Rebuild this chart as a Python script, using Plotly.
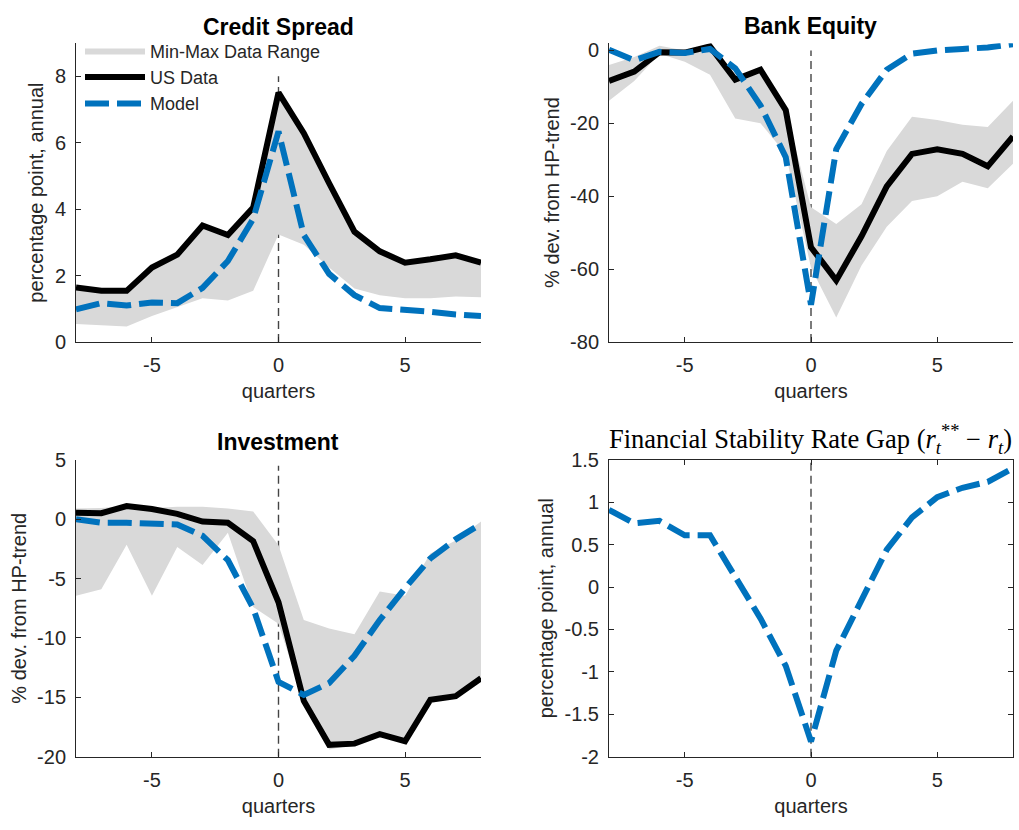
import plotly.graph_objects as go

# ---------------- data ----------------
quarters = list(range(-8, 9))

# Credit Spread (percentage point, annual)
cs_us = [1.64, 1.54, 1.54, 2.24, 2.63, 3.51, 3.22, 4.05, 7.51, 6.29, 4.78, 3.32, 2.73, 2.39, 2.49, 2.61, 2.39]
cs_model = [0.98, 1.17, 1.10, 1.19, 1.17, 1.63, 2.44, 3.71, 6.34, 3.22, 2.05, 1.41, 1.02, 0.98, 0.91, 0.83, 0.78]
cs_upper = [1.64, 1.54, 1.54, 2.24, 2.63, 3.51, 3.22, 4.05, 7.40, 6.29, 4.78, 3.32, 2.73, 2.39, 2.49, 2.61, 2.39]
cs_lower = [0.54, 0.51, 0.47, 0.78, 1.05, 1.32, 1.25, 1.54, 3.24, 2.93, 2.24, 1.61, 1.41, 1.32, 1.32, 1.37, 1.35]

# Bank Equity (% dev. from HP-trend)
be_us = [-8.4, -5.8, -0.5, -0.6, 1.1, -8.0, -5.3, -16.4, -54.0, -63.1, -51.0, -37.3, -28.4, -27.1, -28.4, -31.8, -23.6]
be_model = [0.2, -2.7, -0.4, -0.7, 0.4, -4.9, -15.1, -29.3, -69.8, -27.1, -14.7, -5.3, -0.9, 0.0, 0.4, 0.8, 1.7]
be_upper = [-4.0, -1.8, 1.3, 0.0, 1.1, -8.0, -5.3, -16.4, -43.0, -47.6, -42.2, -27.6, -18.2, -19.1, -20.4, -21.0, -13.8]
be_lower = [-13.8, -8.4, -0.9, -3.1, -6.7, -18.7, -20.0, -28.4, -59.6, -73.3, -59.0, -48.4, -41.3, -40.0, -36.0, -37.8, -31.1]

# Investment (% dev. from HP-trend)
inv_us = [0.55, 0.50, 1.10, 0.85, 0.45, -0.20, -0.30, -1.85, -7.0, -15.3, -19.0, -18.9, -18.1, -18.7, -15.2, -14.9, -13.4]
inv_model = [0.0, -0.3, -0.3, -0.4, -0.45, -1.4, -3.45, -7.5, -13.7, -14.8, -13.8, -11.5, -8.5, -5.8, -3.3, -1.7, -0.4]
inv_upper = [0.9, 0.95, 1.1, 0.95, 1.05, 1.05, 0.9, 0.65, -2.2, -8.5, -9.2, -9.7, -6.1, -6.45, -2.9, -1.8, -0.2]
inv_lower = [-6.45, -5.9, -2.15, -6.45, -2.35, -3.85, -1.15, -7.4, -8.8, -15.4, -19.4, -19.0, -18.1, -18.7, -15.2, -14.9, -13.3]

# Financial Stability Rate Gap (percentage point, annual)
gap_model = [0.91, 0.75, 0.78, 0.61, 0.61, 0.13, -0.37, -0.93, -1.82, -0.75, -0.17, 0.44, 0.82, 1.06, 1.17, 1.24, 1.40]

# tick labels
x_ticks = [-5, 0, 5]
x_ticktext = ["-5", "0", "5"]
cs_yticks = [0, 2, 4, 6, 8]
cs_yticktext = ["0", "2", "4", "6", "8"]
be_yticks = [-80, -60, -40, -20, 0]
be_yticktext = ["-80", "-60", "-40", "-20", "0"]
inv_yticks = [-20, -15, -10, -5, 0, 5]
inv_yticktext = ["-20", "-15", "-10", "-5", "0", "5"]
gap_yticks = [-2, -1.5, -1, -0.5, 0, 0.5, 1, 1.5]
gap_yticktext = ["-2", "-1.5", "-1", "-0.5", "0", "0.5", "1", "1.5"]

titles = ["Credit Spread", "Bank Equity", "Investment"]
gap_title = ("Financial Stability Rate Gap (<i>r</i><sub><i>t</i></sub><sup>**</sup>"
             " \u2212 <i>r</i><sub><i>t</i></sub>)")

# ---------------- style ----------------
W, H = 1019, 830
BLUE = "#0072BD"
BAND = "rgb(217,217,217)"
AX = "#262626"
FONT = "Liberation Sans"

fig = go.Figure()

panels = [
    (1, cs_us, cs_model, cs_upper, cs_lower),
    (2, be_us, be_model, be_upper, be_lower),
    (3, inv_us, inv_model, inv_upper, inv_lower),
]

for idx, us, model, up, lo in panels:
    xa = "x" if idx == 1 else f"x{idx}"
    ya = "y" if idx == 1 else f"y{idx}"
    show = idx == 1
    fig.add_trace(go.Scatter(
        x=quarters + quarters[::-1], y=up + lo[::-1], fill="toself",
        fillcolor=BAND, line=dict(width=0, color=BAND), mode="lines",
        name="Min-Max Data Range", showlegend=show, xaxis=xa, yaxis=ya,
        hoverinfo="skip"))
    fig.add_trace(go.Scatter(
        x=quarters, y=us, mode="lines", line=dict(color="black", width=6),
        name="US Data", showlegend=show, xaxis=xa, yaxis=ya))
    fig.add_trace(go.Scatter(
        x=quarters, y=model, mode="lines",
        line=dict(color=BLUE, width=6, dash="24px,8px"),
        name="Model", showlegend=show, xaxis=xa, yaxis=ya))

fig.add_trace(go.Scatter(
    x=quarters, y=gap_model, mode="lines",
    line=dict(color=BLUE, width=6, dash="24px,8px"),
    name="Model", showlegend=False, xaxis="x4", yaxis="y4"))

def px_x(p):
    return p / W

def px_y(p):
    return 1 - p / H

xdom_l = [px_x(76), px_x(481)]
xdom_r = [px_x(609), px_x(1013)]
ydom_t = [px_y(340), px_y(33)]
ydom_b = [px_y(766), px_y(461)]

def xaxis(domain, anchor, mirror=False):
    return dict(domain=domain, anchor=anchor, range=[-8, 8], tickvals=x_ticks,
                ticktext=x_ticktext, showline=True, linecolor=AX, linewidth=1,
                ticks="inside", ticklen=5, tickcolor=AX, mirror=mirror,
                showgrid=False, zeroline=False, ticklabelstandoff=5,
                tickfont=dict(size=20, color=AX, family=FONT),
                title=dict(text="quarters", font=dict(size=20, color=AX, family=FONT),
                           standoff=9))

def yaxis(domain, anchor, rng, tv, tt, label, mirror=False):
    return dict(domain=domain, anchor=anchor, range=rng, tickvals=tv, ticktext=tt,
                showline=True, linecolor=AX, linewidth=1, ticks="inside", ticklen=5,
                tickcolor=AX, mirror=mirror, showgrid=False, zeroline=False,
                ticklabelstandoff=5,
                tickfont=dict(size=20, color=AX, family=FONT),
                title=dict(text=label, font=dict(size=20, color=AX, family=FONT),
                           standoff=5))

fig.update_layout(
    width=W, height=H, margin=dict(l=0, r=0, t=0, b=0),
    paper_bgcolor="white", plot_bgcolor="white",
    font=dict(family=FONT, color=AX),
    xaxis=xaxis(xdom_l, "y"),
    yaxis=yaxis(ydom_t, "x", [0, 9], cs_yticks, cs_yticktext, "percentage point, annual"),
    xaxis2=xaxis(xdom_r, "y2"),
    yaxis2=yaxis(ydom_t, "x2", [-80, 2], be_yticks, be_yticktext, "% dev. from HP-trend"),
    xaxis3=xaxis(xdom_l, "y3"),
    yaxis3=yaxis(ydom_b, "x3", [-20, 5], inv_yticks, inv_yticktext, "% dev. from HP-trend"),
    xaxis4=xaxis(xdom_r, "y4", mirror="ticks"),
    yaxis4=yaxis(ydom_b, "x4", [-2, 1.5], gap_yticks, gap_yticktext,
                 "percentage point, annual", mirror="ticks"),
    legend=dict(x=px_x(80), y=px_y(22), xanchor="left", yanchor="top",
                bgcolor="rgba(0,0,0,0)", font=dict(size=18, color=AX, family=FONT),
                itemwidth=60, tracegroupgap=0),
    showlegend=True,
)

# vertical dashed reference lines at quarter 0
vline_spans = [("x", "y", 0, 8), ("x2", "y2", -80, 0), ("x3", "y3", -20, 4.5), ("x4", "y4", -2, 1.5)]
for xr, yr, y0, y1 in vline_spans:
    fig.add_shape(type="line", xref=xr, yref=yr, x0=0, x1=0, y0=y0, y1=y1,
                  line=dict(color="#444444", width=1.4, dash="8px,5px"), layer="below")

# panel titles
title_pos = [(278, 16), (810, 15), (278, 443)]
for t, (cx, cy) in zip(titles, title_pos):
    fig.add_annotation(text=f"<b>{t}</b>", x=px_x(cx), y=px_y(cy), xref="paper", yref="paper",
                       xanchor="center", yanchor="middle",
                       showarrow=False, font=dict(size=23, color="black", family=FONT))
fig.add_annotation(text=gap_title, x=px_x(810), y=px_y(440), xref="paper", yref="paper",
                   xanchor="center", yanchor="middle",
                   showarrow=False, font=dict(size=26.5, color="black", family="Liberation Serif"))

fig.write_html("out.html")
